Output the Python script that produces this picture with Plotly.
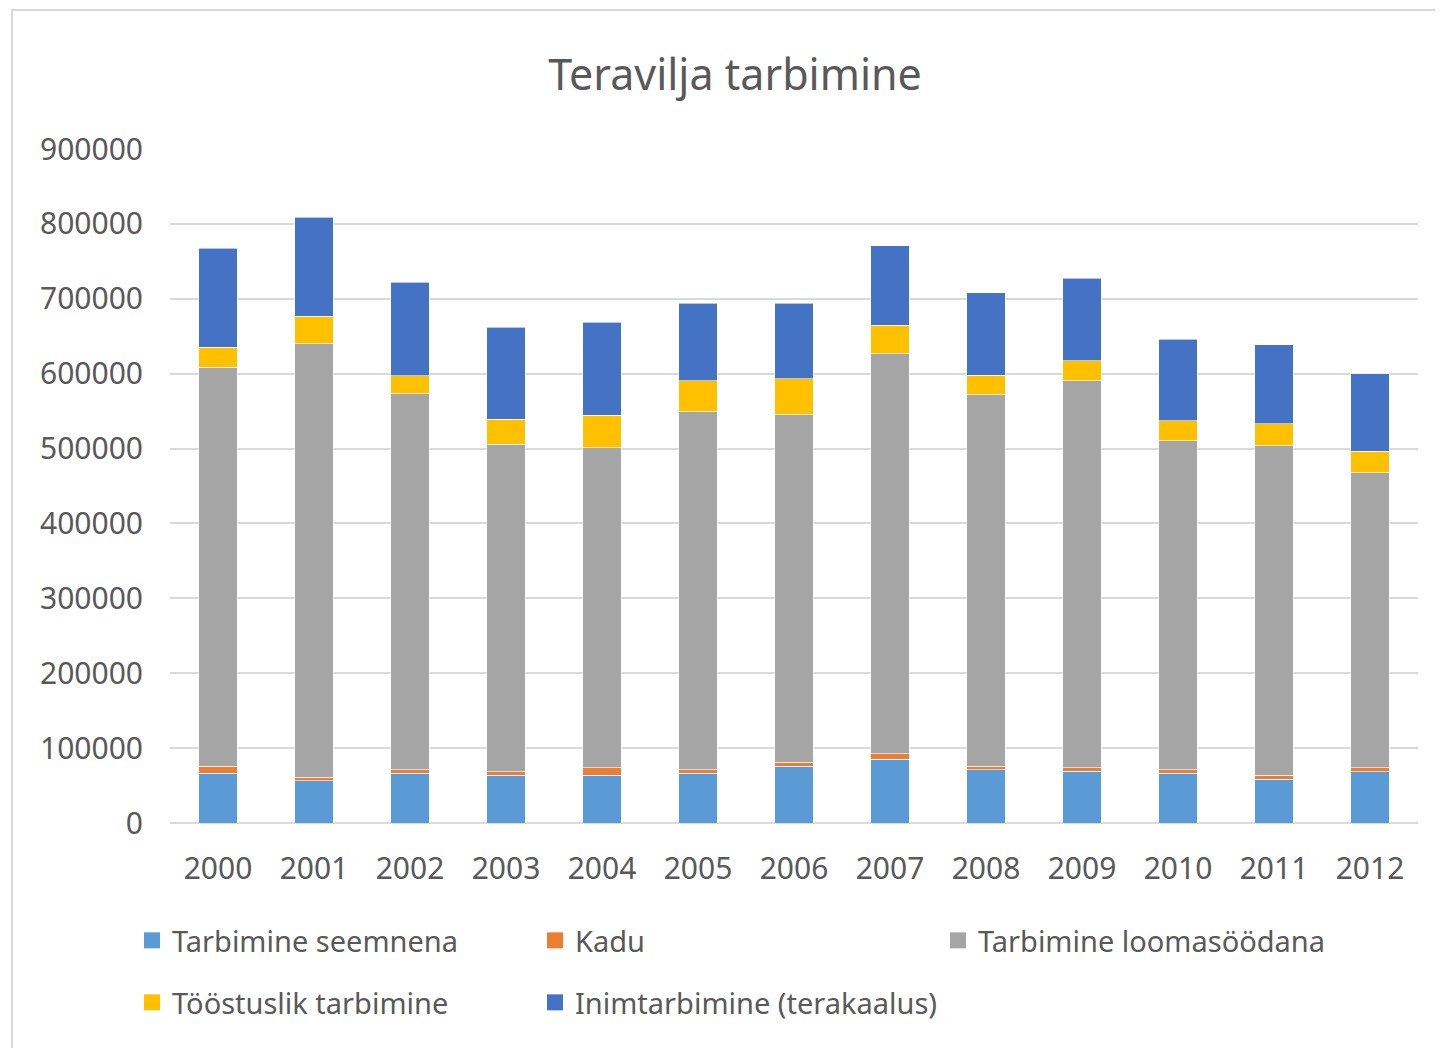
import plotly.graph_objects as go

years = ["2000", "2001", "2002", "2003", "2004", "2005", "2006",
         "2007", "2008", "2009", "2010", "2011", "2012"]

seemnena = [66400, 56500, 66400, 63700, 63700, 66400, 75700,
            85400, 71200, 69000, 66400, 58700, 68500]
kadu = [9700, 4900, 4800, 4800, 10100, 4800, 5300,
        7100, 4900, 4800, 4800, 5300, 5300]
loomasoodana = [532700, 578600, 502000, 437100, 427300, 478200, 464000,
                534100, 495700, 516700, 439400, 439900, 394000]
toostuslik = [26700, 36500, 24000, 33400, 43200, 41100, 48200,
              38300, 26200, 26800, 26800, 29100, 28500]
inimtarbimine = [131800, 132200, 124700, 122800, 124600, 103400, 100700,
                 106200, 110200, 110100, 108400, 105700, 103600]

y_ticks = [0, 100000, 200000, 300000, 400000, 500000, 600000, 700000, 800000, 900000]

series = [
    ("Tarbimine seemnena", seemnena, "#5B9BD5", "legend"),
    ("Kadu", kadu, "#ED7D31", "legend"),
    ("Tarbimine loomasöödana", loomasoodana, "#A5A5A5", "legend"),
    ("Tööstuslik tarbimine", toostuslik, "#FFC000", "legend2"),
    ("Inimtarbimine (terakaalus)", inimtarbimine, "#4472C4", "legend2"),
]

FONT = "Noto Sans"
TXT = "#595959"

fig = go.Figure()
for name, vals, col, lg in series:
    fig.add_trace(go.Bar(
        x=years, y=vals, name=name, showlegend=False, legendgroup=name,
        marker=dict(color=col, line=dict(color="rgba(255,255,255,0.6)", width=1)),
    ))
# legend entries (larger square swatches)
for name, vals, col, lg in series:
    fig.add_trace(go.Scatter(
        x=[None], y=[None], name=name, legend=lg, legendgroup=name,
        mode="markers", marker=dict(symbol="square", size=16, color=col),
        hoverinfo="skip",
    ))

OFF = 8  # page body margin
W, H = 1443 - OFF, 1048 - OFF
L, T = 170 - OFF, 149 - OFF
pw, ph = 1248, 674
R = W - L - pw
B = H - T - ph

def px(a):
    return (a - OFF - L) / pw

def py(a):
    return (H - B - (a - OFF)) / ph

legend_common = dict(orientation="h", xref="paper", yref="paper", yanchor="top",
                     entrywidth=358, entrywidthmode="pixels",
                     font=dict(size=29, color=TXT, family=FONT), traceorder="normal",
                     itemwidth=30, bgcolor="rgba(0,0,0,0)")

fig.update_layout(
    width=W, height=H,
    barmode="stack",
    bargap=0.6,
    plot_bgcolor="white",
    paper_bgcolor="white",
    margin=dict(l=L, r=R, t=T, b=B, autoexpand=False),
    font=dict(family=FONT, color=TXT, size=30),
    title=dict(text="Teravilja tarbimine", x=(735 - OFF) / W, xref="container",
               xanchor="center", y=1 - (75 - OFF) / H, yanchor="middle",
               font=dict(family=FONT, size=43, color=TXT)),
    xaxis=dict(showgrid=False, showline=False, ticks="", tickfont=dict(size=30, color=TXT),
               ticklabelstandoff=25),
    yaxis=dict(range=[0, 900000], tickvals=y_ticks, ticktext=[str(v) for v in y_ticks],
               showgrid=True, gridcolor="#D9D9D9", gridwidth=1.5,
               zeroline=True, zerolinecolor="#D9D9D9", zerolinewidth=1.5,
               showline=False, ticks="", tickfont=dict(size=30, color=TXT),
               ticklabelstandoff=26),
    legend=dict(legend_common, x=px(132), y=py(915)),
    legend2=dict(legend_common, x=px(132), y=py(977)),
    shapes=[dict(type="rect", xref="paper", yref="paper",
                 x0=px(12), x1=px(1441), y0=py(1070), y1=py(10),
                 line=dict(color="#D9D9D9", width=2), fillcolor="rgba(0,0,0,0)",
                 layer="below")],
)

fig.write_html("out.html")
